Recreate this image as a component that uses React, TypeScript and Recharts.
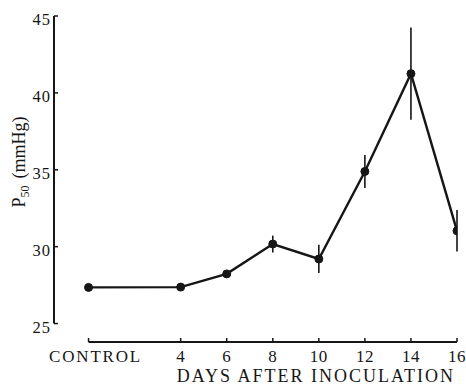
import { LineChart, Line, XAxis, YAxis, ErrorBar, ReferenceLine } from "recharts";

const days = [0, 4, 6, 8, 10, 12, 14, 16];
const p50 = [27.35, 27.37, 28.23, 30.17, 29.2, 34.89, 41.25, 31.03];
const sem = [0, 0, 0, 0.55, 0.92, 1.07, 3.0, 1.35];
const xTicks = [0, 4, 6, 8, 10, 12, 14, 16];
const yTicks = [25, 30, 35, 40, 45];

const data = days.map((d, i) => ({ day: d, p50: p50[i], sem: sem[i] }));

const X_MIN = -1.5;
const Y_MIN = 23.8;
const INK = "#161616";
const FONT = "Liberation Serif, Times New Roman, DejaVu Serif, serif";

function XTick({ x, y, payload }: any) {
  const v = payload.value;
  return (
    <g>
      <line x1={x} y1={y} x2={x} y2={y - 4} stroke={INK} strokeWidth={1.5} />
      <text
        x={v === 0 ? x + 7 : x}
        y={y + 19.5}
        textAnchor="middle"
        fill={INK}
        style={{ fontFamily: FONT, fontSize: 17, letterSpacing: v === 0 ? 1.8 : 0.5 }}
      >
        {v === 0 ? "CONTROL" : v}
      </text>
    </g>
  );
}

function YTick({ x, y, payload }: any) {
  return (
    <g>
      <line x1={x} y1={y} x2={x + 4} y2={y} stroke={INK} strokeWidth={1.5} />
      <text x={x - 3} y={y + 9} textAnchor="end" fill={INK} style={{ fontFamily: FONT, fontSize: 16.5, letterSpacing: 1 }}>
        {payload.value}
      </text>
    </g>
  );
}

export default function App() {
  return (
    <div style={{ position: "absolute", left: 0, top: 0, width: 466, height: 386, background: "#fff" }}>
      <LineChart width={466} height={386} data={data} margin={{ top: 16, right: 9, left: 0, bottom: 0 }}>
        <XAxis
          dataKey="day"
          type="number"
          domain={[X_MIN, 16]}
          ticks={xTicks}
          allowDataOverflow
          axisLine={false}
          tickLine={false}
          tickSize={0}
          tickMargin={0}
          height={44}
          tick={<XTick />}
          interval={0}
        />
        <YAxis
          type="number"
          domain={[Y_MIN, 45]}
          ticks={yTicks}
          allowDataOverflow
          axisLine={false}
          tickLine={false}
          tickSize={0}
          tickMargin={0}
          width={54}
          tick={<YTick />}
          interval={0}
        />
        <ReferenceLine
          segment={[{ x: X_MIN, y: 25 }, { x: X_MIN, y: 45 }]}
          stroke={INK}
          strokeWidth={2}
          ifOverflow="visible"
        />
        <ReferenceLine
          segment={[{ x: 0, y: Y_MIN }, { x: 16, y: Y_MIN }]}
          stroke={INK}
          strokeWidth={2}
          ifOverflow="visible"
        />
        <Line
          dataKey="p50"
          type="linear"
          stroke={INK}
          strokeWidth={2.4}
          dot={{ r: 4, fill: INK, stroke: INK, strokeWidth: 1 }}
          isAnimationActive={false}
        >
          <ErrorBar dataKey="sem" direction="y" width={0} stroke={INK} strokeWidth={1.6} isAnimationActive={false} />
        </Line>
      </LineChart>
      <svg width={466} height={386} style={{ position: "absolute", left: 0, top: 0, pointerEvents: "none" }}>
        <text
          x={25}
          y={162}
          transform="rotate(-90, 25, 162)"
          textAnchor="middle"
          fill={INK}
          style={{ fontFamily: FONT, fontSize: 18 }}
        >
          P
          <tspan style={{ fontSize: 12 }} dy={4}>50</tspan>
          <tspan dy={-4} dx={7}>(mmHg)</tspan>
        </text>
        <text
          x={455}
          y={382}
          textAnchor="end"
          fill={INK}
          style={{ fontFamily: FONT, fontSize: 18, letterSpacing: 2 }}
        >
          DAYS AFTER INOCULATION
        </text>
      </svg>
    </div>
  );
}
